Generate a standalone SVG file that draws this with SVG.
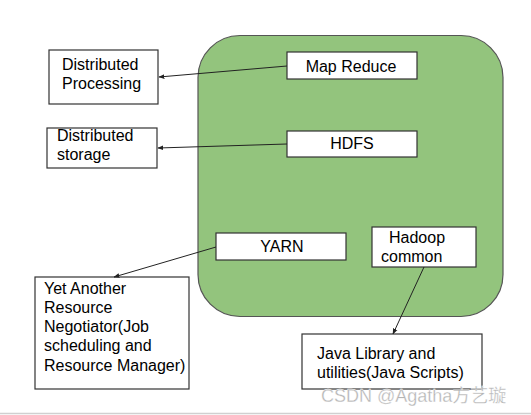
<svg xmlns="http://www.w3.org/2000/svg" width="531" height="415" viewBox="0 0 531 415">
<defs>
<style>
.box{fill:#fff;stroke:#333;stroke-width:1.2}
.t{font-family:"Liberation Sans",Arial,sans-serif;font-size:16px;fill:#000}
.c{text-anchor:middle}
.conn{stroke:#222;stroke-width:1;fill:none;marker-end:url(#ah)}
</style>
<marker id="ah" viewBox="0 0 10 10" refX="9" refY="5" markerWidth="6" markerHeight="6" orient="auto" markerUnits="userSpaceOnUse">
<path d="M0,1 L10,5 L0,9 Z" fill="#222"/>
</marker>
</defs>
<rect width="531" height="415" fill="#fff"/>
<line x1="0" y1="413.5" x2="531" y2="413.5" stroke="#d0d0d0" stroke-width="1.5"/>
<g id="hadoop">
<rect x="198" y="35.5" width="305" height="281" rx="42" ry="42" fill="#93c47d" stroke="#555" stroke-width="1.2"/>
</g>
<g id="mapreduce">
<rect class="box" x="287" y="52" width="130" height="27"/>
<text class="t c" x="351" y="72">Map Reduce</text>
</g>
<g id="hdfs">
<rect class="box" x="287" y="131" width="130" height="26"/>
<text class="t c" x="352" y="149">HDFS</text>
</g>
<g id="yarn">
<rect class="box" x="216" y="233" width="130" height="27"/>
<text class="t c" x="282" y="252">YARN</text>
</g>
<g id="common">
<rect class="box" x="372" y="227" width="104" height="40"/>
<text class="t" x="389" y="243">Hadoop</text>
<text class="t" x="381" y="262">common</text>
</g>
<g id="distproc">
<rect class="box" x="49" y="50" width="109" height="54"/>
<text class="t" x="62" y="70">Distributed</text>
<text class="t" x="62" y="89">Processing</text>
</g>
<g id="diststore">
<rect class="box" x="47" y="128" width="110" height="40"/>
<text class="t" x="57" y="141">Distributed</text>
<text class="t" x="57" y="160">storage</text>
</g>
<g id="yetanother">
<rect class="box" x="35" y="277" width="154" height="112"/>
<text class="t" x="44" y="294">Yet Another</text>
<text class="t" x="44" y="313">Resource</text>
<text class="t" x="44" y="332">Negotiator(Job</text>
<text class="t" x="44" y="351">scheduling and</text>
<text class="t" x="44" y="371">Resource Manager)</text>
</g>
<g id="javalib">
<rect class="box" x="302" y="334" width="180" height="55"/>
<text class="t" x="317" y="359">Java Library and</text>
<text class="t" x="317" y="378">utilities(Java Scripts)</text>
</g>
<g id="connectors">
<line class="conn" x1="287" y1="66" x2="159" y2="77"/>
<line class="conn" x1="287" y1="144" x2="158" y2="148"/>
<line class="conn" x1="216" y1="247" x2="114" y2="277"/>
<line class="conn" x1="424" y1="267" x2="393" y2="334"/>
</g>
<text x="321" y="402" font-family="'Liberation Sans','Noto Sans CJK SC',sans-serif" font-size="18" fill="#b4b4b4" stroke="#fff" stroke-width="0.3">CSDN @Agatha方艺璇</text>
</svg>
